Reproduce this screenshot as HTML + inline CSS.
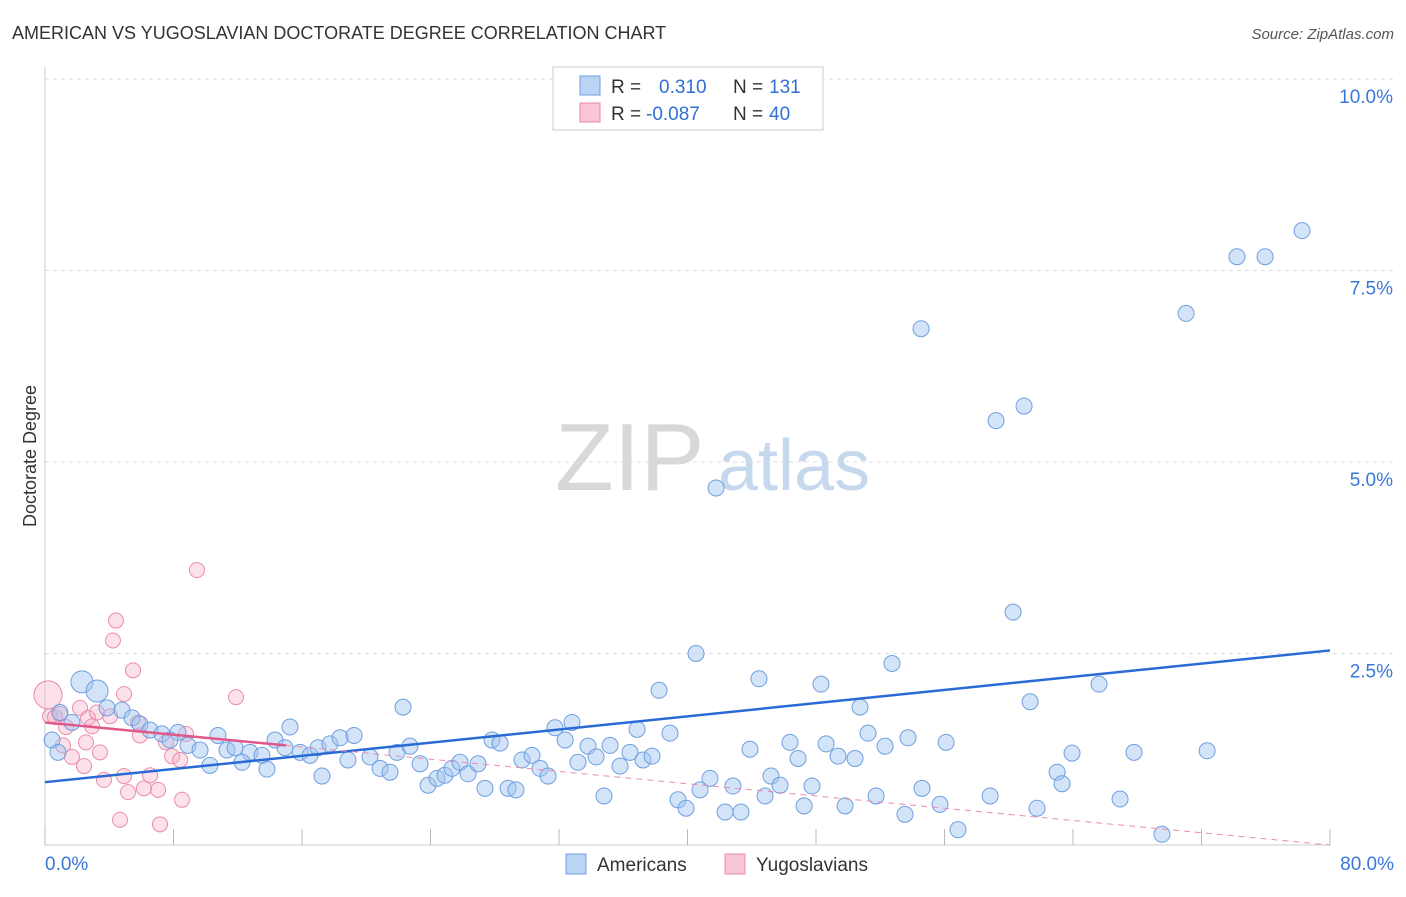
<!DOCTYPE html>
<html><head><meta charset="utf-8">
<style>
body{margin:0;background:#fff;font-family:"Liberation Sans",sans-serif;}
svg text{font-family:"Liberation Sans",sans-serif;}
</style></head>
<body>
<svg id="chart" width="1406" height="892" viewBox="0 0 1406 892" xmlns="http://www.w3.org/2000/svg">
<text x="12" y="39" font-size="18" fill="#333">AMERICAN VS YUGOSLAVIAN DOCTORATE DEGREE CORRELATION CHART</text>
<text x="1394" y="39" font-size="15" fill="#555" font-style="italic" text-anchor="end">Source: ZipAtlas.com</text>
<text x="36" y="456" font-size="18" fill="#333" transform="rotate(-90 36 456)" text-anchor="middle">Doctorate Degree</text>
<g>
<text x="555" y="490" font-size="96" fill="#d8d8d8" font-family="Liberation Serif">ZIP</text>
<text x="718" y="490" font-size="72" fill="#c6d8ee">atlas</text>
</g>
<g id="grid"></g>
<g id="axes"></g>
<g id="marks"></g>
<g>
<rect x="553" y="67" width="270" height="63" fill="#fff" stroke="#ccc"/>
<rect x="580" y="76" width="20" height="19" fill="#bcd4f4" stroke="#6e9fe0"/>
<text x="611" y="93" font-size="19" fill="#333">R = </text>
<text x="659" y="93" font-size="19" fill="#2f6fd6">0.310</text>
<text x="733" y="93" font-size="19" fill="#333">N = </text>
<text x="769" y="93" font-size="19" fill="#2f6fd6">131</text>
<rect x="580" y="103" width="20" height="19" fill="#f8c6d6" stroke="#e88aaa"/>
<text x="611" y="120" font-size="19" fill="#333">R = </text>
<text x="646" y="120" font-size="19" fill="#2f6fd6">-0.087</text>
<text x="733" y="120" font-size="19" fill="#333">N = </text>
<text x="769" y="120" font-size="19" fill="#2f6fd6">40</text>
</g>
<g>
<rect x="566" y="854" width="20" height="20" fill="#bcd4f4" stroke="#6e9fe0"/>
<text x="597" y="871" font-size="19" fill="#333">Americans</text>
<rect x="725" y="854" width="20" height="20" fill="#f8c6d6" stroke="#e88aaa"/>
<text x="756" y="871" font-size="19" fill="#333">Yugoslavians</text>
</g>
</svg>
<script>
const xTicks=[0,8,16,24,32,40,48,56,64,72,80];
const yTicks=[2.5,5,7.5,10];
const yTickLabels=["2.5%","5.0%","7.5%","10.0%"];
const xEndLabels=["0.0%","80.0%"];
const blueX=[78.26,74.21,75.96,71.04,54.54,59.21,60.95,41.78,60.27,40.53,52.73,38.23,44.45,48.31,65.62,61.33,50.74,22.29,15.25,32.81,31.75,36.86,38.91,2.30,3.24,3.86,4.79,0.93,1.68,5.42,5.91,6.54,7.28,8.28,7.78,8.90,9.65,10.77,11.33,11.83,12.76,13.51,14.32,14.94,15.88,16.50,17.00,17.74,18.37,19.24,18.86,20.23,20.86,21.48,21.92,22.72,23.35,23.85,24.41,24.90,25.34,25.84,26.34,26.96,27.83,28.33,27.39,28.83,29.32,29.70,30.32,30.82,31.32,32.38,33.18,33.81,34.31,34.80,35.18,35.80,36.42,37.23,37.79,39.41,39.91,40.78,41.40,42.34,42.83,43.33,43.89,44.83,45.20,45.76,46.38,46.88,47.26,47.75,48.63,49.37,49.81,50.43,51.24,51.74,52.30,53.54,53.73,54.60,55.72,56.10,56.84,58.84,61.76,63.01,63.32,63.94,66.93,67.80,69.54,72.35,0.44,0.81,13.82,17.25,10.27,12.27];
const blueY=[8.02,7.68,7.68,6.94,6.74,5.54,5.73,4.66,3.04,2.50,2.37,2.02,2.17,2.10,2.10,1.87,1.80,1.80,1.54,1.60,1.53,1.51,1.46,2.13,2.01,1.79,1.76,1.73,1.60,1.66,1.58,1.50,1.45,1.47,1.37,1.30,1.24,1.43,1.24,1.27,1.21,1.17,1.37,1.27,1.21,1.17,1.27,1.32,1.40,1.43,1.11,1.15,1.00,0.95,1.21,1.29,1.06,0.78,0.87,0.91,1.00,1.08,0.93,1.06,1.37,1.33,0.74,0.74,0.72,1.11,1.17,1.00,0.90,1.37,1.08,1.29,1.15,0.64,1.30,1.03,1.21,1.11,1.16,0.59,0.48,0.72,0.87,0.43,0.77,0.43,1.25,0.64,0.90,0.78,1.34,1.13,0.51,0.77,1.32,1.16,0.51,1.13,1.46,0.64,1.29,0.40,1.40,0.74,0.53,1.34,0.20,0.64,0.48,0.95,0.80,1.20,0.60,1.21,0.14,1.23,1.37,1.21,0.99,0.90,1.04,1.08];
const pinkX=[0.19,0.31,0.62,0.93,1.12,1.31,1.68,2.18,2.55,2.68,2.93,3.24,3.42,3.67,4.05,4.23,4.42,4.67,4.92,5.17,5.48,5.79,5.91,6.16,6.54,7.04,7.16,7.53,7.91,8.41,8.53,8.78,9.46,11.89,4.92,2.43];
const pinkY=[1.96,1.68,1.67,1.71,1.30,1.54,1.15,1.79,1.34,1.66,1.55,1.73,1.21,0.85,1.68,2.67,2.93,0.33,0.90,0.69,2.28,1.60,1.43,0.74,0.91,0.72,0.27,1.34,1.16,1.11,0.59,1.45,3.59,1.93,1.97,1.03];
const blueTrend=[0.82,2.54];
const pinkTrend=[1.60,0.0];
const pinkSolidEnd=15;

const X0=45,X1=1330,Y0=845,Y10=79;
const sx=v=>X0+(v/80)*(X1-X0);
const sy=v=>Y0-(v/10)*(Y0-Y10);
const NS="http://www.w3.org/2000/svg";
function mk(tag,attrs,parent){const e=document.createElementNS(NS,tag);for(const k in attrs)e.setAttribute(k,attrs[k]);parent.appendChild(e);return e;}
const grid=document.getElementById('grid'),axes=document.getElementById('axes'),marks=document.getElementById('marks');
yTicks.forEach((t,i)=>{
 const l=mk('line',{x1:X0,x2:1394,y1:sy(t),y2:sy(t),stroke:'#ddd','stroke-dasharray':'4,4'},grid);
 
 
 const tx=mk('text',{x:1393,y:sy(t)+24,'font-size':19,fill:'#3a78d8','text-anchor':'end'},axes);
 tx.textContent=yTickLabels[i];
 
 
});
const ya=mk('line',{x1:X0,x2:X0,y1:67,y2:Y0,stroke:'#ccc'},axes);


const xa=mk('line',{x1:X0,x2:X1,y1:Y0,y2:Y0,stroke:'#ccc'},axes);


xTicks.forEach(t=>{
 const l=mk('line',{x1:sx(t),x2:sx(t),y1:Y0,y2:Y0-16,stroke:'#bbb'},axes);
 
 
});
[[0,'start',xEndLabels[0]],[80,'end',xEndLabels[1]]].forEach(([v,a,s])=>{
 const tx=mk('text',{x:v===0?sx(v):1394,y:870,'font-size':19,fill:'#3a78d8','text-anchor':a},axes);
 tx.textContent=s;
 
 
});
pinkX.forEach((x,i)=>{
 const c=mk('circle',{cx:sx(x),cy:sy(pinkY[i]),r:i===0?14:7.5,fill:'rgba(246,170,196,0.35)',stroke:'#eb8cab','stroke-width':1},marks);
 
 
});
blueX.forEach((x,i)=>{
 const c=mk('circle',{cx:sx(x),cy:sy(blueY[i]),r:(i===23||i===24)?11:8,fill:'rgba(160,196,240,0.45)',stroke:'#6f9fe0','stroke-width':1},marks);
 
 
});
const bt=mk('line',{x1:sx(0),y1:sy(blueTrend[0]),x2:sx(80),y2:sy(blueTrend[1]),stroke:'#2a6ad4','stroke-width':2.5},marks);


const py=v=>pinkTrend[0]+(pinkTrend[1]-pinkTrend[0])*v/80;
const pd=mk('line',{x1:sx(pinkSolidEnd),y1:sy(py(pinkSolidEnd)),x2:sx(80),y2:sy(py(80)),stroke:'#eb8cab','stroke-width':1,'stroke-dasharray':'6,5'},marks);


const ps=mk('line',{x1:sx(0),y1:sy(py(0)),x2:sx(pinkSolidEnd),y2:sy(py(pinkSolidEnd)),stroke:'#e0588a','stroke-width':2.5},marks);


</script>
</body></html>
